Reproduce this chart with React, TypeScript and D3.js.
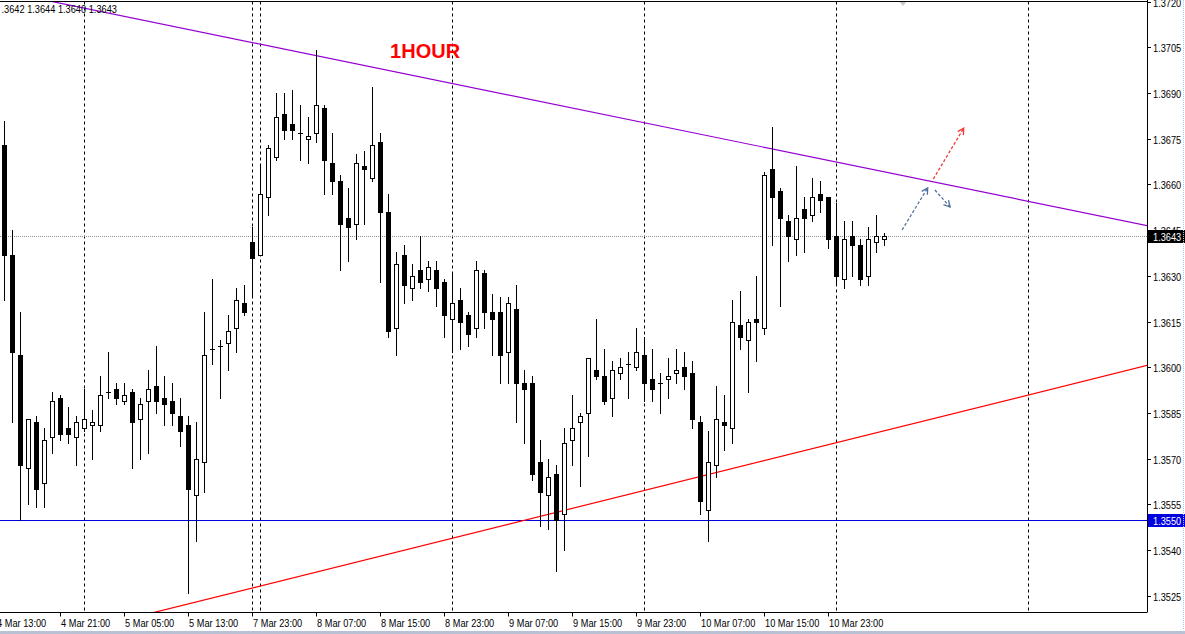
import React from 'react';
import * as d3 from 'd3';

const W = 1185;
const H = 634;

// hourly candles, bar index 0 = 4 Mar 14:00
const opens = [
  1.3673, 1.3637, 1.3604, 1.3567, 1.3582, 1.3562, 1.3577, 1.3590, 1.3580, 1.3577,
  1.3580, 1.3581, 1.3581, 1.3592, 1.3593, 1.3589, 1.3592, 1.3583, 1.3589, 1.3594,
  1.3590, 1.3589, 1.3584, 1.3581, 1.3558, 1.3569, 1.3606, 1.3607, 1.3608, 1.3613,
  1.3621, 1.3641, 1.3637, 1.3656, 1.3669, 1.3683, 1.3680, 1.3677, 1.3675, 1.3677,
  1.3685, 1.3667, 1.3661, 1.3649, 1.3647, 1.3666, 1.3662, 1.3674, 1.3651, 1.3613,
  1.3637, 1.3626, 1.3632, 1.3629, 1.3632, 1.3628, 1.3616, 1.3622, 1.3617, 1.3613,
  1.3631, 1.3618, 1.3618, 1.3605, 1.3619, 1.3595, 1.3595, 1.3569, 1.3558, 1.3565,
  1.3552, 1.3576, 1.3582, 1.3585, 1.3599, 1.3597, 1.3590, 1.3598, 1.3601, 1.3600,
  1.3604, 1.3596, 1.3595, 1.3596, 1.3598, 1.3600, 1.3598, 1.3582, 1.3553, 1.3568,
  1.3582, 1.3580, 1.3614, 1.3609, 1.3616, 1.3613, 1.3665, 1.3658, 1.3648, 1.3642,
  1.3652, 1.3650, 1.3657, 1.3656, 1.3643, 1.3629, 1.3643, 1.3640, 1.3630, 1.3641,
  1.3642,
];
const highs = [
  1.3681, 1.3645, 1.3618, 1.3583, 1.3584, 1.3580, 1.3592, 1.3591, 1.3587, 1.3584,
  1.3593, 1.3586, 1.3597, 1.3605, 1.3595, 1.3595, 1.3593, 1.3590, 1.3599, 1.3607,
  1.3597, 1.3595, 1.3590, 1.3584, 1.3582, 1.3618, 1.3629, 1.3609, 1.3617, 1.3626,
  1.3627, 1.3646, 1.3666, 1.3673, 1.3690, 1.3690, 1.3691, 1.3686, 1.3682, 1.3704,
  1.3686, 1.3677, 1.3663, 1.3659, 1.3670, 1.3671, 1.3692, 1.3677, 1.3657, 1.3638,
  1.3640, 1.3634, 1.3643, 1.3635, 1.3635, 1.3629, 1.3631, 1.3626, 1.3618, 1.3635,
  1.3632, 1.3624, 1.3623, 1.3623, 1.3627, 1.3599, 1.3597, 1.3576, 1.3570, 1.3568,
  1.3580, 1.3591, 1.3585, 1.3603, 1.3616, 1.3606, 1.3602, 1.3603, 1.3605, 1.3613,
  1.3610, 1.3606, 1.3598, 1.3603, 1.3606, 1.3605, 1.3602, 1.3584, 1.3579, 1.3594,
  1.3591, 1.3622, 1.3625, 1.3616, 1.3630, 1.3664, 1.3679, 1.3659, 1.3650, 1.3666,
  1.3656, 1.3662, 1.3661, 1.3656, 1.3654, 1.3648, 1.3648, 1.3642, 1.3646, 1.3650,
  1.3644,
];
const lows = [
  1.3622, 1.3582, 1.3550, 1.3555, 1.3554, 1.3554, 1.3572, 1.3576, 1.3575, 1.3568,
  1.3579, 1.3570, 1.3579, 1.3590, 1.3588, 1.3588, 1.3567, 1.3570, 1.3572, 1.3585,
  1.3581, 1.3581, 1.3574, 1.3526, 1.3543, 1.3559, 1.3601, 1.3590, 1.3599, 1.3605,
  1.3617, 1.3623, 1.3637, 1.3650, 1.3668, 1.3675, 1.3675, 1.3668, 1.3667, 1.3674,
  1.3657, 1.3657, 1.3632, 1.3635, 1.3642, 1.3647, 1.3661, 1.3628, 1.3610, 1.3604,
  1.3621, 1.3622, 1.3626, 1.3625, 1.3620, 1.3610, 1.3605, 1.3606, 1.3607, 1.3610,
  1.3613, 1.3604, 1.3595, 1.3595, 1.3582, 1.3575, 1.3563, 1.3548, 1.3547, 1.3533,
  1.3540, 1.3568, 1.3561, 1.3571, 1.3596, 1.3588, 1.3584, 1.3596, 1.3590, 1.3599,
  1.3589, 1.3589, 1.3585, 1.3590, 1.3595, 1.3593, 1.3580, 1.3552, 1.3543, 1.3564,
  1.3573, 1.3575, 1.3606, 1.3592, 1.3602, 1.3611, 1.3640, 1.3620, 1.3635, 1.3637,
  1.3638, 1.3648, 1.3651, 1.3639, 1.3627, 1.3626, 1.3630, 1.3627, 1.3627, 1.3638,
  1.3640,
];
const closes = [
  1.3637, 1.3605, 1.3568, 1.3583, 1.3560, 1.3576, 1.3589, 1.3578, 1.3578, 1.3582,
  1.3583, 1.3582, 1.3591, 1.3592, 1.3590, 1.3591, 1.3582, 1.3588, 1.3593, 1.3589,
  1.3588, 1.3585, 1.3579, 1.3560, 1.3570, 1.3604, 1.3606, 1.3607, 1.3612, 1.3622,
  1.3618, 1.3636, 1.3657, 1.3672, 1.3682, 1.3678, 1.3678, 1.3677, 1.3676, 1.3686,
  1.3668, 1.3661, 1.3647, 1.3646, 1.3667, 1.3665, 1.3673, 1.3651, 1.3612, 1.3634,
  1.3627, 1.3630, 1.3628, 1.3633, 1.3626, 1.3617, 1.3621, 1.3615, 1.3611, 1.3632,
  1.3618, 1.3616, 1.3604, 1.3621, 1.3595, 1.3593, 1.3565, 1.3559, 1.3564, 1.3550,
  1.3575, 1.3580, 1.3584, 1.3603, 1.3597, 1.3589, 1.3599, 1.3600, 1.3601, 1.3605,
  1.3595, 1.3593, 1.3595, 1.3597, 1.3599, 1.3597, 1.3583, 1.3556, 1.3569, 1.3583,
  1.3581, 1.3615, 1.3610, 1.3615, 1.3615, 1.3663, 1.3656, 1.3649, 1.3643, 1.3649,
  1.3649, 1.3656, 1.3655, 1.3642, 1.3630, 1.3642, 1.3640, 1.3629, 1.3642, 1.3643,
  1.3643,
];

const timeTickBars = [-1, 7, 15, 23, 31, 39, 47, 55, 63, 71, 79, 87, 95, 103];
const timeTickLabels = [
  '4 Mar 13:00', '4 Mar 21:00', '5 Mar 05:00', '5 Mar 13:00', '7 Mar 23:00',
  '8 Mar 07:00', '8 Mar 15:00', '8 Mar 23:00', '9 Mar 07:00', '9 Mar 15:00',
  '9 Mar 23:00', '10 Mar 07:00', '10 Mar 15:00', '10 Mar 23:00',
];
const daySeparatorBars = [10, 31, 32, 56, 80, 104, 128];
const priceTicks = [
  1.372, 1.3705, 1.369, 1.3675, 1.366, 1.3645, 1.363, 1.3615, 1.36, 1.3585,
  1.357, 1.3555, 1.354, 1.3525,
];

// trend lines as [bar, price] anchor pairs
const resistanceLine: [number, number][] = [[6.6, 1.37197], [142.8, 1.36465]];
const supportLine: [number, number][] = [[19.4, 1.352], [142.8, 1.36006]];
const supportLevel = 1.355;
const bidPrice = 1.3643;

// forecast arrows [fromBar, fromPrice, toBar, toPrice]
const forecastArrows: [number, number, number, number][] = [
  [112.2, 1.36451, 115.4, 1.36589],
  [116.3, 1.36582, 118.2, 1.36526],
  [116.1, 1.36618, 119.9, 1.36785],
];
const arrowColors = ['#52709f', '#52709f', '#f03a3a'];

const titleText = '1HOUR';
const titleAnchor: [number, number] = [48.2, 1.37015];

const PLOT_RIGHT = 1147;
const PLOT_TOP = 1.5;
const PLOT_BOTTOM = 612.5;
const FONT = "'Liberation Sans', Arial, sans-serif";

const xs = d3.scaleLinear().domain([0, 110]).range([4.5, 884.5]);
const ys = d3.scaleLinear().domain([1.352, 1.372]).range([611, 1.7]);

const fmt = (v: number) => v.toFixed(4);
const snap = (v: number) => Math.round(v) + 0.5;

function Txt(props: { x: number; y: number; fill?: string; size?: number; weight?: string; children: React.ReactNode; sx?: number }) {
  const { x, y, fill = '#000', size = 11, weight = 'normal', children, sx = 0.84 } = props;
  return (
    <text
      transform={`translate(${x},${y}) scale(${sx},1)`}
      fontFamily={FONT}
      fontSize={size}
      fontWeight={weight}
      fill={fill}
    >
      {children}
    </text>
  );
}

function Arrow({ a, color }: { a: [number, number, number, number]; color: string }) {
  const x1 = xs(a[0]), y1 = ys(a[1]), x2 = xs(a[2]), y2 = ys(a[3]);
  const ang = Math.atan2(y2 - y1, x2 - x1);
  const len = 7;
  const h1 = [x2 - len * Math.cos(ang - 0.5), y2 - len * Math.sin(ang - 0.5)];
  const h2 = [x2 - len * Math.cos(ang + 0.5), y2 - len * Math.sin(ang + 0.5)];
  return (
    <g stroke={color} strokeWidth={1.3} fill="none" strokeDasharray="3,2">
      <line x1={x1} y1={y1} x2={x2} y2={y2} />
      <polyline points={`${h1[0]},${h1[1]} ${x2},${y2} ${h2[0]},${h2[1]}`} strokeDasharray="none" />
    </g>
  );
}

export default function App() {
  const n = opens.length;
  const candles = d3.range(n).map((i) => {
    const o = opens[i], c = closes[i], h = highs[i], l = lows[i];
    const cx = xs(i);
    const yTop = snap(ys(Math.max(o, c)));
    const yBot = snap(ys(Math.min(o, c)));
    const bear = c < o;
    const doji = Math.abs(c - o) < 1e-7;
    return (
      <g key={i}>
        <line x1={cx} x2={cx} y1={Math.round(ys(h))} y2={Math.round(ys(l)) + 1} stroke="#000" strokeWidth={1} />
        {doji ? (
          <line x1={cx - 2.5} x2={cx + 2.5} y1={yTop} y2={yTop} stroke="#000" strokeWidth={1} />
        ) : (
          <rect
            x={cx - 2}
            y={yTop}
            width={4}
            height={Math.max(1, yBot - yTop)}
            fill={bear ? '#000' : '#fff'}
            stroke="#000"
            strokeWidth={1}
          />
        )}
      </g>
    );
  });

  const last = n - 1;
  const header = [opens[last], highs[last], lows[last], closes[last]].map(fmt).join(' ').slice(1);

  const lineY = (pts: [number, number][]) => ({
    x1: xs(pts[0][0]), y1: ys(pts[0][1]), x2: xs(pts[1][0]), y2: ys(pts[1][1]),
  });
  const extend = (pts: [number, number][]) => {
    const s = (pts[1][1] - pts[0][1]) / (pts[1][0] - pts[0][0]);
    const k0 = pts[0][0] - 40, k1 = pts[1][0] + 10;
    return lineY([[k0, pts[0][1] + s * (k0 - pts[0][0])], [k1, pts[0][1] + s * (k1 - pts[0][0])]]);
  };

  const bidY = snap(ys(bidPrice));
  const supY = snap(ys(supportLevel));

  return (
    <svg width={W} height={H} style={{ position: 'absolute', left: 0, top: 0, background: '#fff' }}>
      <defs>
        <clipPath id="plot">
          <rect x={0} y={PLOT_TOP} width={PLOT_RIGHT} height={PLOT_BOTTOM - PLOT_TOP} />
        </clipPath>
      </defs>
      <rect x={0} y={0} width={W} height={H} fill="#fff" />

      {/* day separators */}
      {daySeparatorBars.map((b) => (
        <line key={b} x1={xs(b)} x2={xs(b)} y1={PLOT_TOP} y2={PLOT_BOTTOM} stroke="#000" strokeWidth={1} strokeDasharray="3,3" />
      ))}

      <g clipPath="url(#plot)">
        {/* bid line */}
        <line x1={0} x2={PLOT_RIGHT} y1={bidY} y2={bidY} stroke="#909090" strokeWidth={1} strokeDasharray="1,1" />
        {/* support level */}
        <line x1={0} x2={PLOT_RIGHT} y1={supY} y2={supY} stroke="#0000e0" strokeWidth={1.2} />
        {/* trend lines */}
        <line {...extend(resistanceLine)} stroke="#9400d3" strokeWidth={1.2} />
        <line {...extend(supportLine)} stroke="#ff0000" strokeWidth={1.2} />
        {candles}
        {forecastArrows.map((a, i) => (
          <Arrow key={i} a={a} color={arrowColors[i]} />
        ))}
      </g>

      {/* chart shift marker */}
      <polygon points="899,1 907,1 903,6" fill="#c8c8c8" />

      <text
        x={xs(titleAnchor[0])}
        y={ys(titleAnchor[1])}
        fontFamily={FONT}
        fontSize={20}
        fontWeight="bold"
        fill="#ff0000"
      >
        {titleText}
      </text>

      <Txt x={1.5} y={13}>{header}</Txt>

      {/* frame */}
      <line x1={0} x2={PLOT_RIGHT} y1={PLOT_TOP} y2={PLOT_TOP} stroke="#000" />
      <line x1={0} x2={PLOT_RIGHT} y1={PLOT_BOTTOM} y2={PLOT_BOTTOM} stroke="#000" />
      <line x1={PLOT_RIGHT + 0.5} x2={PLOT_RIGHT + 0.5} y1={0} y2={PLOT_BOTTOM} stroke="#000" />

      {/* price axis */}
      {priceTicks.map((p) => {
        const y = snap(ys(p));
        return (
          <g key={p}>
            <line x1={PLOT_RIGHT} x2={PLOT_RIGHT + 4} y1={y} y2={y} stroke="#000" />
            <Txt x={PLOT_RIGHT + 6} y={y + 4}>{fmt(p)}</Txt>
          </g>
        );
      })}
      <rect x={PLOT_RIGHT + 1} y={bidY - 6.5} width={W - PLOT_RIGHT - 1} height={13} fill="#000" />
      <Txt x={PLOT_RIGHT + 6} y={bidY + 4} fill="#fff">{fmt(bidPrice)}</Txt>
      <rect x={PLOT_RIGHT + 1} y={supY - 6.5} width={W - PLOT_RIGHT - 1} height={13} fill="#0000e0" />
      <Txt x={PLOT_RIGHT + 6} y={supY + 4} fill="#fff">{fmt(supportLevel)}</Txt>

      {/* time axis */}
      {timeTickBars.map((b, i) => {
        const x = xs(b);
        return (
          <g key={b}>
            <line x1={x} x2={x} y1={PLOT_BOTTOM} y2={PLOT_BOTTOM + 4} stroke="#000" />
            <Txt x={x + 0.5} y={627}>{timeTickLabels[i]}</Txt>
          </g>
        );
      })}

      {/* window chrome */}
      <line x1={1183.5} x2={1183.5} y1={0} y2={630} stroke="#a8c8e8" strokeDasharray="1,1" />
      <rect x={0} y={631} width={W} height={3} fill="#b8c2d4" />
    </svg>
  );
}
